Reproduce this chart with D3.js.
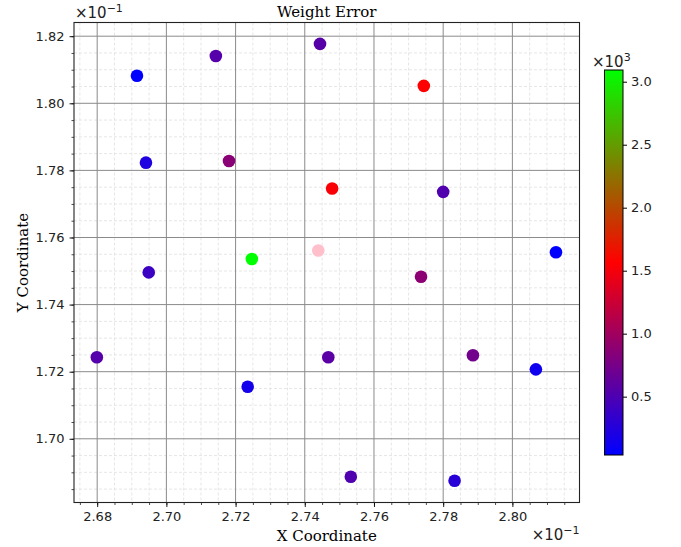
<!DOCTYPE html>
<html>
<head>
<meta charset="utf-8">
<script src="https://cdn.jsdelivr.net/npm/d3@7"></script>
<style>
  body { margin: 0; background: #fff; }
  svg text { fill: #000; }
  .tick text { font-family: "DejaVu Sans", sans-serif; font-size: 13px; }
  .serif { font-family: "DejaVu Serif", serif; font-size: 15px; }
</style>
</head>
<body>
<div id="chart"></div>
<script>
// point positions, shown in units of 1e-1
var xCoord = [2.6915, 2.7143, 2.7444, 2.7744, 2.6941, 2.7181, 2.7479, 2.7800, 2.6949, 2.7247,
              2.7736, 2.8126, 2.6799, 2.7468, 2.7886, 2.8068, 2.7235, 2.7533, 2.7833];
var yCoord = [1.8082, 1.8141, 1.8177, 1.8052, 1.7823, 1.7828, 1.7746, 1.7736, 1.7496, 1.7536,
              1.7483, 1.7556, 1.7243, 1.7243, 1.7249, 1.7207, 1.7155, 1.6887, 1.6875];
// weight error of each point
var weightError = [40, 546, 560, 1560, 220, 862, 1530, 517, 397, 3093,
                   876, 37, 546, 576, 726, 127, 157, 517, 277];
// the reference point drawn in pink
var refPoint = [2.7439, 1.7561];

var xTicks = [2.68, 2.70, 2.72, 2.74, 2.76, 2.78, 2.80];
var yTicks = [1.70, 1.72, 1.74, 1.76, 1.78, 1.80, 1.82];
var cbTicks = [500, 1000, 1500, 2000, 2500, 3000];

var W = 681, H = 547;
var plot = {left: 74, right: 579.5, top: 22.5, bottom: 502.5};

var svg = d3.select("#chart").append("svg").attr("width", W).attr("height", H);

var x = d3.scaleLinear().domain([2.6733, 2.8194]).range([plot.left, plot.right]);
var y = d3.scaleLinear().domain([1.68101, 1.82408]).range([plot.bottom, plot.top]);

var cMin = 37, cMax = 3093;
var color = d3.scaleLinear().domain([cMin, (cMin + cMax) / 2, cMax])
  .range(["#0000ff", "#ff0000", "#00ff00"]).clamp(true);

// minor grid every 0.005
var xMinor = d3.range(2.675, 2.8195, 0.005).filter(function(v){ return Math.abs(Math.round(v * 50) - v * 50) > 1e-6; });
var yMinor = d3.range(1.685, 1.8245, 0.005).filter(function(v){ return Math.abs(Math.round(v * 50) - v * 50) > 1e-6; });

var grid = svg.append("g");
grid.selectAll(".mx").data(xMinor).enter().append("line")
  .attr("x1", function(d){ return x(d); }).attr("x2", function(d){ return x(d); })
  .attr("y1", plot.top).attr("y2", plot.bottom)
  .attr("stroke", "#e0e0e0").attr("stroke-width", 0.8).attr("stroke-dasharray", "3,2");
grid.selectAll(".my").data(yMinor).enter().append("line")
  .attr("y1", function(d){ return y(d); }).attr("y2", function(d){ return y(d); })
  .attr("x1", plot.left).attr("x2", plot.right)
  .attr("stroke", "#e0e0e0").attr("stroke-width", 0.8).attr("stroke-dasharray", "3,2");
grid.selectAll(".gx").data(xTicks).enter().append("line")
  .attr("x1", function(d){ return x(d); }).attr("x2", function(d){ return x(d); })
  .attr("y1", plot.top).attr("y2", plot.bottom)
  .attr("stroke", "#8a8a8a").attr("stroke-width", 1);
grid.selectAll(".gy").data(yTicks).enter().append("line")
  .attr("y1", function(d){ return y(d); }).attr("y2", function(d){ return y(d); })
  .attr("x1", plot.left).attr("x2", plot.right)
  .attr("stroke", "#8a8a8a").attr("stroke-width", 1);

// points
svg.append("g").selectAll("circle")
  .data(xCoord.map(function(d, i){ return {x: d, y: yCoord[i], e: weightError[i]}; }))
  .enter().append("circle")
  .attr("cx", function(d){ return x(d.x); })
  .attr("cy", function(d){ return y(d.y); })
  .attr("r", 6.3)
  .attr("fill", function(d){ return color(d.e); });

svg.append("circle")
  .attr("cx", x(refPoint[0])).attr("cy", y(refPoint[1]))
  .attr("r", 6.3).attr("fill", "#ffc0cb");

// axes
var fmt = d3.format(".2f");
var xAxis = svg.append("g").attr("transform", "translate(0," + plot.bottom + ")")
  .call(d3.axisBottom(x).tickValues(xTicks).tickFormat(fmt).tickSize(4.5).tickPadding(5));
var yAxis = svg.append("g").attr("transform", "translate(" + plot.left + ",0)")
  .call(d3.axisLeft(y).tickValues(yTicks).tickFormat(fmt).tickSize(4.5).tickPadding(5));
[xAxis, yAxis].forEach(function(a){
  a.select(".domain").remove();
  a.selectAll(".tick line").attr("stroke", "#000").attr("stroke-width", 0.9);
  a.selectAll(".tick text").style("fill", "#222");
});
svg.append("g").attr("transform", "translate(0," + plot.bottom + ")")
  .call(d3.axisBottom(x).tickValues(d3.range(2.675, 2.8195, 0.005)).tickFormat("").tickSize(2.5))
  .call(function(g){ g.select(".domain").remove(); g.selectAll("line").attr("stroke", "#000").attr("stroke-width", 0.7); });
svg.append("g").attr("transform", "translate(" + plot.left + ",0)")
  .call(d3.axisLeft(y).tickValues(d3.range(1.685, 1.8245, 0.005)).tickFormat("").tickSize(2.5))
  .call(function(g){ g.select(".domain").remove(); g.selectAll("line").attr("stroke", "#000").attr("stroke-width", 0.7); });

svg.append("rect")
  .attr("x", plot.left).attr("y", plot.top)
  .attr("width", plot.right - plot.left).attr("height", plot.bottom - plot.top)
  .attr("fill", "none").attr("stroke", "#222").attr("stroke-width", 1.1);

// labels
svg.append("text").attr("class", "serif").attr("x", (plot.left + plot.right) / 2).attr("y", 17)
  .attr("text-anchor", "middle").text("Weight Error");
svg.append("text").attr("class", "serif").attr("x", (plot.left + plot.right) / 2).attr("y", 541)
  .attr("text-anchor", "middle").text("X Coordinate");
svg.append("text").attr("class", "serif")
  .attr("transform", "translate(28," + ((plot.top + plot.bottom) / 2) + ") rotate(-90)")
  .attr("text-anchor", "middle").text("Y Coordinate");

function offsetText(xp, yp, anchor, exp) {
  var t = svg.append("text").attr("x", xp).attr("y", yp).attr("text-anchor", anchor)
    .style("font-family", "DejaVu Sans, sans-serif").style("font-size", "15px").style("fill", "#222");
  t.append("tspan").text("×10");
  t.append("tspan").attr("dy", -6.5).style("font-size", "11px").text(exp);
}
offsetText(plot.left + 1, 18, "start", "−1");
offsetText(plot.right, 540, "end", "−1");

// colorbar
var cb = {left: 604.5, right: 623, top: 70, bottom: 455};
var defs = svg.append("defs");
var grad = defs.append("linearGradient").attr("id", "cbgrad")
  .attr("x1", 0).attr("y1", 1).attr("x2", 0).attr("y2", 0);
grad.selectAll("stop").data([cMin, (cMin + cMax) / 2, cMax]).enter().append("stop")
  .attr("offset", function(d, i){ return i / 2; })
  .attr("stop-color", function(d){ return color(d); });
var cy = d3.scaleLinear().domain([cMin, cMax]).range([cb.bottom, cb.top]);
svg.append("rect").attr("x", cb.left).attr("y", cb.top)
  .attr("width", cb.right - cb.left).attr("height", cb.bottom - cb.top)
  .attr("fill", "url(#cbgrad)").attr("stroke", "#000").attr("stroke-width", 1);
var cAxis = svg.append("g").attr("transform", "translate(" + cb.right + ",0)")
  .call(d3.axisRight(cy).tickValues(cbTicks).tickFormat(function(d){ return (d / 1000).toFixed(1); })
    .tickSize(4).tickPadding(4));
cAxis.select(".domain").remove();
cAxis.selectAll(".tick line").attr("stroke", "#000");
cAxis.selectAll(".tick text").style("fill", "#222");
offsetText(592, 67, "start", "3");
</script>
</body>
</html>
